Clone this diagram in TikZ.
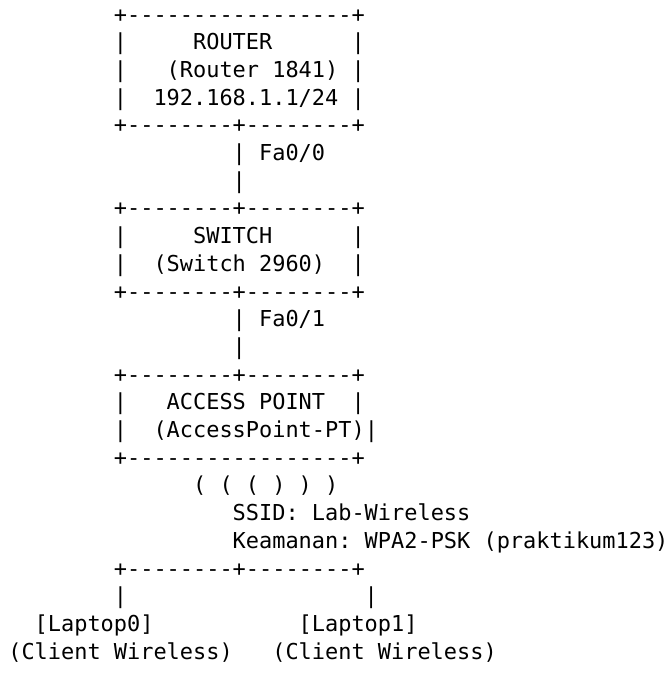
\documentclass[tikz,border=0pt]{standalone}
\usepackage{fontspec}
\setmonofont{DejaVu Sans Mono}
\begin{document}
\begin{tikzpicture}[x=0.75pt,y=-0.75pt,
  txt/.style={anchor=base west,inner sep=0pt,outer sep=0pt,
    font=\ttfamily\fontsize{16.45pt}{20pt}\selectfont}]
\fill[white] (0,0) rectangle (670,675);
\useasboundingbox (0,0) rectangle (670,675);
\newcommand\seg[4]{\node[txt] (#1) at ({8.3+#3*13.2},{22+#2*27.7}) {#4};}
% ROUTER box
\seg{rtop}{0}{8}{+-----------------+}
\seg{rl1}{1}{8}{|}\seg{rname}{1}{14}{ROUTER}\seg{rr1}{1}{26}{|}
\seg{rl2}{2}{8}{|}\seg{rmodel}{2}{12}{(Router 1841)}\seg{rr2}{2}{26}{|}
\seg{rl3}{3}{8}{|}\seg{rip}{3}{11}{192.168.1.1/24}\seg{rr3}{3}{26}{|}
\seg{rbot}{4}{8}{+--------+--------+}
% link router-switch
\seg{l1a}{5}{17}{| Fa0/0}
\seg{l1b}{6}{17}{|}
% SWITCH box
\seg{stop}{7}{8}{+--------+--------+}
\seg{sl1}{8}{8}{|}\seg{sname}{8}{14}{SWITCH}\seg{sr1}{8}{26}{|}
\seg{sl2}{9}{8}{|}\seg{smodel}{9}{11}{(Switch 2960)}\seg{sr2}{9}{26}{|}
\seg{sbot}{10}{8}{+--------+--------+}
% link switch-AP
\seg{l2a}{11}{17}{| Fa0/1}
\seg{l2b}{12}{17}{|}
% ACCESS POINT box
\seg{atop}{13}{8}{+--------+--------+}
\seg{al1}{14}{8}{|}\seg{aname}{14}{12}{ACCESS POINT}\seg{ar1}{14}{26}{|}
\seg{al2}{15}{8}{|}\seg{amodel}{15}{11}{(AccessPoint-PT)|}
\seg{abot}{16}{8}{+-----------------+}
% wireless
\seg{wave}{17}{14}{( ( ( ) ) )}
\seg{ssid}{18}{17}{SSID: Lab-Wireless}
\seg{sec}{19}{17}{Keamanan: WPA2-PSK (praktikum123)}
% clients
\seg{split}{20}{8}{+--------+--------+}
\seg{cl}{21}{8}{|}\seg{cr}{21}{27}{|}
\seg{lap0}{22}{2}{[Laptop0]}\seg{lap1}{22}{22}{[Laptop1]}
\seg{cw0}{23}{0}{(Client Wireless)}\seg{cw1}{23}{20}{(Client Wireless)}
\end{tikzpicture}
\end{document}
